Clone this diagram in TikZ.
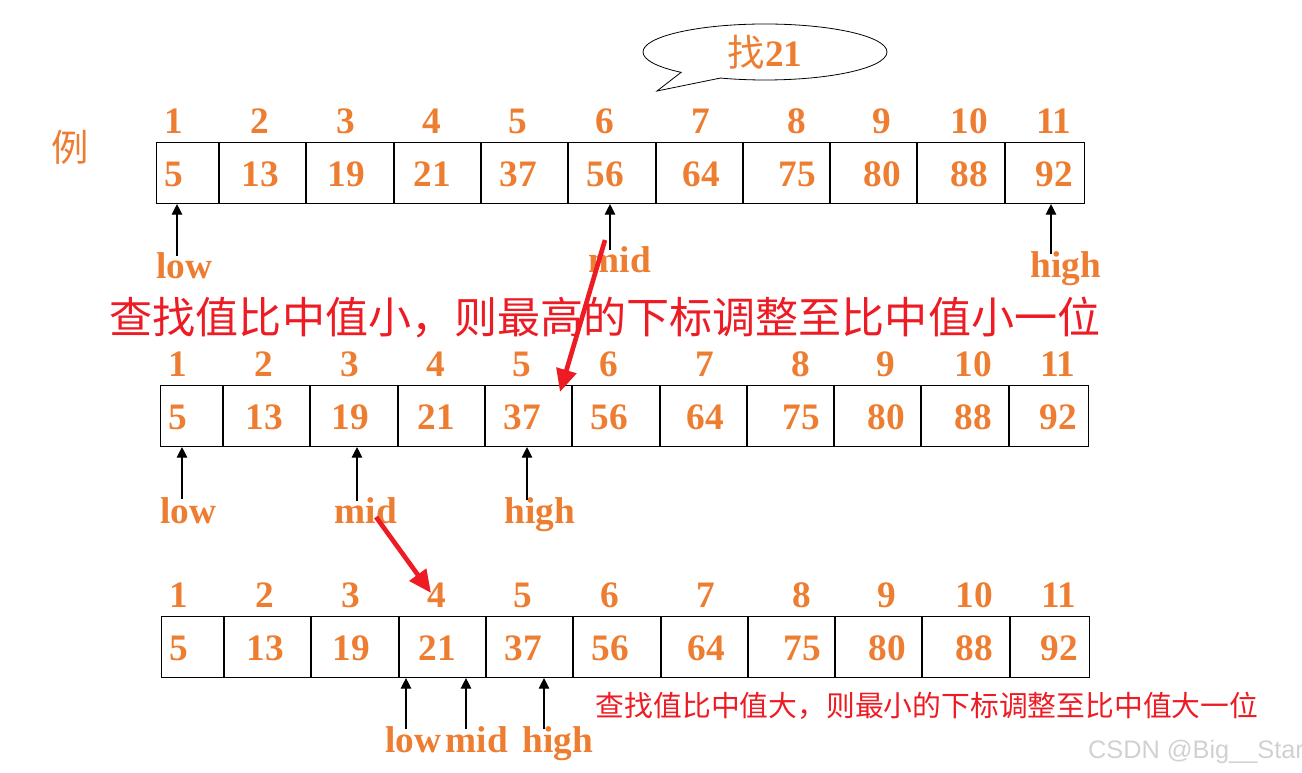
\documentclass[tikz,border=0pt]{standalone}
\usepackage{fontspec}
\setmainfont{Liberation Serif}
\newfontfamily\cjk{Noto Sans CJK SC}
\newfontfamily\marksans{Liberation Sans}
\usepackage{xcolor}
\usepackage{tikz}
\usetikzlibrary{shapes.callouts, arrows.meta, positioning}
\definecolor{numorange}{HTML}{ED7D31}
\definecolor{hintred}{HTML}{ED1C24}

\begin{document}
\begin{tikzpicture}[x=0.75pt, y=-0.75pt,
            num/.style={text=numorange, font=\fontsize{28}{30}\selectfont\bfseries, inner sep=0pt},
            lbl/.style={num, anchor=base},
            row/.style={draw, line width=0.8pt, minimum width=696pt, minimum height=45.75pt, anchor=north west, inner sep=0pt},
            ptr/.style={-{Triangle[length=8pt, width=8pt]}, line width=0.8pt},
            hint/.style={-{Triangle[length=17pt, width=15pt]}, line width=3.5pt, hintred}]

            \useasboundingbox (0,0) rectangle (1302,773);

            % three copies of the array
            \foreach \r/\dx/\rowy in {A/0/142, B/4/385, C/5/616} {
                \node[row] (row\r) at (156+\dx,\rowy) {};
                \foreach \cx in {219, 306, 394, 481, 568, 656, 743, 830, 917, 1005}
                    \draw[line width=0.8pt] (\cx+\dx,\rowy) -- (\cx+\dx,\rowy+61);
                \foreach \tx/\v [count=\i] in {174/5, 260/13, 346/19, 432/21, 518/37, 605/56, 701/64, 797/75, 882/80, 969/88, 1054/92} {
                    \node[num] (idx\r\i) at (\tx+\dx,\rowy-21) {\i};
                    \node[num] (val\r\i) at (\tx+\dx,\rowy+32) {\v};
                }
            }

            \node[text=numorange, font=\cjk\fontsize{28}{30}\selectfont, inner sep=0pt] (example) at (70,147) {例};
            \node[draw, ellipse callout, callout absolute pointer={(657,91)}, callout pointer arc=22,
                  minimum width=183pt, minimum height=42pt, inner sep=0pt, line width=0.6pt] (bubble) at (765,52)
                  {\textcolor{numorange}{{\cjk\fontsize{28}{30}\selectfont 找}\fontsize{28}{30}\selectfont\bfseries 21}};

            % pointers, first pass
            \node[lbl] (lowA) at (184,279) {low};
            \node[lbl] (midA) at (620,273) {mid};
            \node[lbl] (highA) at (1066,278) {high};
            \coordinate (tlowA) at (177,256);
            \coordinate (tmidA) at (610,250);
            \coordinate (thighA) at (1051,254);
            \draw[ptr] (tlowA) -- (tlowA |- rowA.south);
            \draw[ptr] (tmidA) -- (tmidA |- rowA.south);
            \draw[ptr] (thighA) -- (thighA |- rowA.south);

            \node[text=hintred, font=\cjk\fontsize{32.3}{34}\selectfont, inner sep=0pt] (ruleHigh) at (605,318) {查找值比中值小，则最高的下标调整至比中值小一位};

            % pointers, second pass
            \node[lbl] (lowB) at (188,523) {low};
            \node[lbl] (midB) at (366,523) {mid};
            \node[lbl] (highB) at (540,523) {high};
            \coordinate (tlowB) at (182,499);
            \coordinate (tmidB) at (357,501);
            \coordinate (thighB) at (527,500);
            \draw[ptr] (tlowB) -- (tlowB |- rowB.south);
            \draw[ptr] (tmidB) -- (tmidB |- rowB.south);
            \draw[ptr] (thighB) -- (thighB |- rowB.south);

            % pointers, third pass
            \node[lbl] (lowC) at (413,752) {low};
            \node[lbl] (midC) at (477,752) {mid};
            \node[lbl] (highC) at (558,752) {high};
            \coordinate (tlowC) at (406,729);
            \coordinate (tmidC) at (466,729);
            \coordinate (thighC) at (544,729);
            \draw[ptr] (tlowC) -- (tlowC |- rowC.south);
            \draw[ptr] (tmidC) -- (tmidC |- rowC.south);
            \draw[ptr] (thighC) -- (thighC |- rowC.south);

            \node[text=hintred, font=\cjk\fontsize{21.6}{23}\selectfont, inner sep=0pt] (ruleLow) at (927,706) {查找值比中值大，则最小的下标调整至比中值大一位};

            % red hints
            \coordinate (hintB) at (560,392);
            \draw[hint] ([shift={(-15,-33)}]midA.base) -- (hintB);
            \draw[hint] ([shift={(10,-6)}]midB.base) -- ([shift={(-6,-2)}]idxC4.center);

            \node[text=black!18, font=\marksans\fontsize{19}{20}\selectfont, inner sep=0pt] (mark) at (1196,752) {CSDN @Big\_\_Star};
        \end{tikzpicture}
\end{document}
